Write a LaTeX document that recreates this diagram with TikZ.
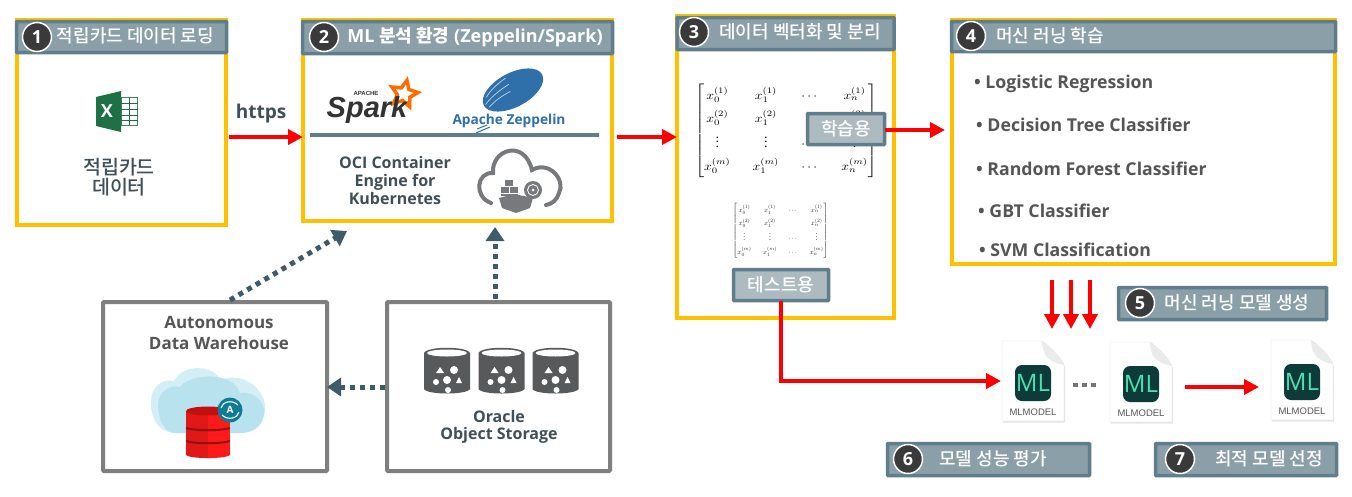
\documentclass[tikz,border=0pt]{standalone}
\usepackage{amsmath}
\usepackage{fontspec}
\usetikzlibrary{arrows.meta,shapes.geometric}
\setmainfont{Open Sans}
\newfontfamily\kr{Noto Sans CJK KR}
\newfontfamily\krm{Noto Sans CJK KR Medium}
\newfontfamily\sparkf{Liberation Sans}
\definecolor{gold}{HTML}{FFC000}
\definecolor{hdfill}{HTML}{8A9FA8}
\definecolor{hdline}{HTML}{5F7D8B}
\definecolor{subfill}{HTML}{ADBBC1}
\definecolor{ink}{HTML}{3F4F58}
\definecolor{gtext}{HTML}{555555}
\definecolor{dots}{HTML}{3F5A68}
\definecolor{frame}{HTML}{7F7F7F}
\definecolor{badge}{HTML}{3A3A3A}
\definecolor{bucket}{HTML}{58595B}
\definecolor{xlgreen}{HTML}{1E7145}
\definecolor{zepblue}{HTML}{2F6FAA}
\definecolor{ocigray}{HTML}{77797C}
\definecolor{mlbg}{HTML}{0C3B3A}
\definecolor{mlfg}{HTML}{4FE0B0}
\definecolor{cloudA}{HTML}{D3EFF5}
\definecolor{cloudB}{HTML}{B8E3EE}
\definecolor{dbL}{HTML}{E01818}
\definecolor{dbR}{HTML}{FF1A1A}
\definecolor{dbT}{HTML}{C01010}
\definecolor{dbB}{HTML}{8E1414}
\definecolor{autoT}{HTML}{0E7C96}
\newcommand{\fs}[1]{\fontsize{#1}{#1}\selectfont}
\newcommand{\mtx}{$\renewcommand{\arraystretch}{1.6}\setlength{\arraycolsep}{8.2pt}\left[\begin{array}{@{}cccc@{}}
x_0^{(1)} & x_1^{(1)} & \cdots & x_n^{(1)}\\
x_0^{(2)} & x_1^{(2)} & & x_n^{(2)}\\
\vdots & \vdots & \cdots & \vdots\\
x_0^{(m)} & x_1^{(m)} & \cdots & x_n^{(m)}
\end{array}\right]$}
\tikzset{
  x=1pt,y=-1pt,
  ybox/.style={draw=gold,line width=4,fill=white,anchor=north west,outer sep=0,inner sep=0},
  gbox/.style={draw=frame,line width=4,fill=white,anchor=north west,outer sep=0,inner sep=0,rounded corners=1},
  head/.style={draw=hdline,line width=3.5,fill=hdfill,anchor=north west,outer sep=0,inner sep=0,rounded corners=.5},
  subhead/.style={draw=hdline,line width=3.5,fill=subfill,anchor=north west,outer sep=0,inner sep=0,rounded corners=.5,text=white,font=\krm\fs{18}},
  num/.style={circle,fill=badge,draw=white,line width=1.5,minimum size=29,inner sep=0,text=white,font=\bfseries\fs{18}},
  htext/.style={text=white,inner sep=0,font=\krm\fs{18}},
  btext/.style={text=ink,inner sep=0,align=center,font=\bfseries\fs{16}},
  ltext/.style={text=gtext,inner sep=0,anchor=base west,font=\bfseries\fs{17.7}},
  flow/.style={draw=red,line width=4,-{Triangle[length=15,width=15]}},
  dotflow/.style={draw=dots,line width=5,dash pattern=on 5 off 5,-{Triangle[length=14,width=18]}},
  bucketpic/.pic={
    \fill[bucket] (-23,-18) -- (-23,18) .. controls (-20,24) and (20,24) .. (23,18) -- (23,-18) .. controls (20,-25) and (-20,-25) .. (-23,-18) -- cycle;
    \fill[white] (0,-18) ellipse [x radius=20,y radius=3.5];
    \fill[white] (-7,-4) -- (-3,2) -- (-11,2) -- cycle;
    \fill[white] (7,-1) circle [radius=4];
    \fill[white] (-11,11) circle [radius=3];
    \fill[white] (0,9) circle [radius=4];
    \fill[white] (12,6) -- (15,12) -- (9,12) -- cycle;
    \fill[white] (1,19) circle [radius=3];
  },
  mldoc/.pic={
    \fill[black!10] (1,2) -- (40,2) -- (63,26) -- (63,81.5) -- (1,81.5) -- cycle;
    \draw[black!15,fill=white] (0,0) -- (40,0) .. controls (48,6) and (57,14) .. (62,24) -- (62,80) -- (0,80) -- cycle;
    \fill[black!8] (40,0) .. controls (41,10) and (41,20) .. (62,24) .. controls (56,14) and (48,6) .. (40,0) -- cycle;
    \fill[mlbg,rounded corners=7] (13,24) rectangle (49,60);
    \node[text=mlfg,inner sep=0,font=\fs{24}] at (31,42) {ML};
    \node[text=gtext,inner sep=0,font=\sparkf\fs{9.5}] at (31,71.5) {MLMODEL};
  }
}
\begin{document}
\begin{tikzpicture}
\useasboundingbox (0,0) rectangle (1352,496);
\fill[white] (0,0) rectangle (1352,496);
% main boxes
\node[ybox,minimum width=209,minimum height=205] (b1) at (17,20) {};
\node[ybox,minimum width=309,minimum height=201] (b2) at (303,20) {};
\node[ybox,minimum width=217,minimum height=302] (b3) at (677,16) {};
\node[ybox,minimum width=383,minimum height=244] (b4) at (952,20) {};
\node[gbox,minimum width=224,minimum height=169] (adw) at (103,302) {};
\node[gbox,minimum width=223,minimum height=169] (obj) at (387,302) {};
% headers
\node[head,minimum width=210,minimum height=31] (h1) at (16.5,21.5) {};
\node[head,minimum width=310,minimum height=32] (h2) at (302.5,21.5) {};
\node[head,minimum width=217,minimum height=32] (h3) at (677,17.5) {};
\node[head,minimum width=384,minimum height=30] (h4) at (951.5,21.5) {};
\node[head,minimum width=208,minimum height=32] (h5) at (1118.5,287.5) {};
\node[head,minimum width=202,minimum height=32] (h6) at (887.5,443.5) {};
\node[head,minimum width=181,minimum height=32] (h7) at (1155.5,443.5) {};
\node[num] (n1) at (37,37) {1};
\node[num] (n2) at (324,37) {2};
\node[num] (n3) at (694,32) {3};
\node[num] (n4) at (971,36) {4};
\node[num] (n5) at (1140,303) {5};
\node[num] (n6) at (908,459) {6};
\node[num] (n7) at (1180,459) {7};
\node[htext] (t1) at (135.5,36) {적립카드 데이터 로딩};
\node[htext,font=\bfseries\fs{18}] (t2) at (475,37) {ML {\krm 분석 환경} (Zeppelin/Spark)};
\node[htext] (t3) at (800,32) {데이터 벡터화 및 분리};
\node[htext] (t4) at (1050,36) {머신 러닝 학습};
\node[htext] (t5) at (1237,303) {머신 러닝 모델 생성};
\node[htext] (t6) at (993,459) {모델 성능 평가};
\node[htext] (t7) at (1269,459) {최적 모델 선정};
% box 1
\fill[xlgreen!85!white] (121,97) rectangle (138,126);
\fill[white] (122,98) rectangle (137,125);
\foreach \yy in {103,109,115,120} \draw[xlgreen,line width=1] (121,\yy) -- (138,\yy);
\draw[xlgreen,line width=1] (129,98) -- (129,125);
\fill[xlgreen] (96,97) -- (121,91) -- (121,132) -- (96,126) -- cycle;
\node[text=white,inner sep=0,font=\bfseries\fs{18}] (xl) at (107,111) {X};
\node[align=center,inner sep=0,font=\krm\fs{19.5},text=ink] (d1) at (119,177) {적립카드\\[0.5pt]데이터};
\node[text=ink,inner sep=0,font=\bfseries\fs{19}] (https) at (261,114) {https};
% box 2 logos
\node[star,star points=5,star point ratio=2.1,draw=orange!85!red,line width=3.5,minimum size=28,inner sep=0,rotate=-12] (sparkstar) at (404,94) {};
\node[text=black!80,inner sep=0,font=\sparkf\bfseries\itshape\fs{29}] (spark) at (367,110) {Spark};
\node[text=black!80,inner sep=0,font=\sparkf\bfseries\fs{6}] (apache) at (366,93) {APACHE};
\fill[zepblue,rotate around={28:(513,90)}] (513,90) ellipse [x radius=33,y radius=17];
\begin{scope}[rotate around={28:(513,90)}]
\draw[white!70!zepblue,line width=.7] (482,90) .. controls (490,86) and (500,84) .. (512,83);
\draw[white!70!zepblue,line width=.7] (484,94) .. controls (492,91) and (500,90) .. (510,90);
\draw[white!70!zepblue,line width=.7] (486,84) .. controls (492,80) and (502,77) .. (512,76);
\end{scope}
\draw[zepblue,line width=1] (476,133) -- (490,127);
\draw[zepblue,line width=1] (477,129) -- (487,125);
\node[text=zepblue,inner sep=0,font=\bfseries\fs{13.7}] (zep) at (509,121) {Apache Zeppelin};
\node[draw=hdline,line width=3.5,minimum width=289,minimum height=0,inner sep=0,outer sep=0] (divider) at (454.5,135) {};
\node[btext] (oci) at (395,180) {OCI Container\\[2pt]Engine for\\[2pt]Kubernetes};
\draw[ocigray,line width=4,line cap=round] (491,203) .. controls (474,197) and (476,172) .. (493,173) .. controls (491,150) and (524,138) .. (532,170) .. controls (549,160) and (566,180) .. (559,193) .. controls (557,200) and (552,204) .. (546,205);
\fill[ocigray] (505,180) rectangle (513,186);
\fill[ocigray] (501,186.5) rectangle (509,193);
\fill[ocigray] (510,186.5) rectangle (518,193);
\fill[ocigray] (501,193.5) rectangle (518,196);
\fill[ocigray] (499,198) -- (514,194) -- (533,198) -- (530,208) -- (516,213) -- (502,208) -- cycle;
\fill[ocigray] (533,190) circle [radius=9];
\draw[white,line width=.8] (533,190) circle [radius=5.5];
\fill[white] (533,190) circle [radius=1.5];
% box 3
\node[inner sep=0,transform shape,xscale=1.35,yscale=1.2,text=black] (m1) at (786,130.5) {\mtx};
\node[inner sep=0,transform shape,scale=.71,text=black!85] (m2) at (780.5,230.5) {\mtx};
\node[subhead,minimum width=77,minimum height=31] (s1) at (807.5,113.5) {학습용};
\node[subhead,minimum width=95,minimum height=31] (s2) at (733.5,269.5) {테스트용};
% box 4
\node[ltext] (f1) at (974,88) {• Logistic Regression};
\node[ltext] (f2) at (976,131) {• Decision Tree Classifier};
\node[ltext] (f3) at (976,175) {• Random Forest Classifier};
\node[ltext] (f4) at (978,217) {• GBT Classifier};
\node[ltext] (f5) at (979,256) {• SVM Classification};
% lower left
\node[text=gtext,inner sep=0,align=center,font=\bfseries\fs{17}] (adwt) at (219,333) {Autonomous\\[4pt]Data Warehouse};
\fill[cloudA] (151,404) .. controls (150,385) and (165,378) .. (174,381) .. controls (184,362) and (215,366) .. (220,380) .. controls (240,372) and (262,385) .. (265,405) .. controls (266,423) and (255,433) .. (240,433) -- (175,433) .. controls (160,433) and (151,420) .. (151,404) -- cycle;
\fill[cloudB] (158,405) .. controls (158,392) and (170,384) .. (180,387) .. controls (190,372) and (235,372) .. (240,393) .. controls (256,390) and (266,405) .. (264,415) .. controls (262,425) and (255,433) .. (240,433) -- (175,433) .. controls (165,433) and (158,420) .. (158,405) -- cycle;
\fill[dbL] (186,411) rectangle (208,455);
\fill[dbR] (208,411) rectangle (230,455);
\fill[dbT] (208,411) ellipse [x radius=22,y radius=4.5];
\fill[dbL] (186,455) .. controls (190,458) and (204,458) .. (208,458) -- (208,455) -- cycle;
\fill[dbR] (230,455) .. controls (226,458) and (212,458) .. (208,458) -- (208,455) -- cycle;
\draw[dbB,line width=2] (186,428) .. controls (195,431) and (221,431) .. (230,428);
\draw[dbB,line width=2] (186,441) .. controls (195,444) and (221,444) .. (230,441);
\node[circle,fill=autoT,minimum size=25,inner sep=0,text=white,font=\bfseries\fs{10}] (auto) at (230,410) {A};
\draw[white,line width=1.1] (221,408) .. controls (222,402) and (232,399) .. (238,405);
\draw[white,line width=1.1] (239,412) .. controls (238,418) and (228,421) .. (222,415);
\pic at (447,371) {bucketpic};
\pic at (501.5,371) {bucketpic};
\pic at (555.5,371) {bucketpic};
\node[btext] (objt) at (499,427) {Oracle\\[1pt]Object Storage};
% ML models
\pic at (1002,341) {mldoc};
\pic at (1110,342) {mldoc};
\pic at (1271,340) {mldoc};
\coordinate (doc1in) at (1001,381);
\coordinate (doc1out) at (1073,385);
\coordinate (doc2in) at (1098,385);
\coordinate (best) at (1259,387);
\coordinate (doc2out) at (1185,387);
% connectors
\coordinate (p12) at (0,137);
\coordinate (p23) at (0,137);
\coordinate (p34) at (0,130);
\coordinate (p4a) at (1052,0);
\coordinate (p4b) at (1071,0);
\coordinate (p4c) at (1090,0);
\coordinate (tipa) at (1052,329);
\coordinate (tipb) at (1071,329);
\coordinate (tipc) at (1090,329);
\coordinate (dz) at (347,231);
\coordinate (dy) at (230,300);
\coordinate (dx) at (495,0);
\coordinate (dl) at (0,387);
\draw[flow,shorten <=3] (b1.east |- p12) -- (b2.west |- p12);
\draw[flow,shorten <=5] (b2.east |- p23) -- (b3.west |- p23);
\draw[flow,shorten >=7] (s1.east |- p34) -- (b4.west |- p34);
\draw[flow,shorten <=16] (p4a |- b4.south) -- (tipa);
\draw[flow,shorten <=16] (p4b |- b4.south) -- (tipb);
\draw[flow,shorten <=16] (p4c |- b4.south) -- (tipc);
\draw[draw=red,line width=4,-{Triangle[length=15,width=15]}] (s2.south -| 781,0) -- (781,381) -- (doc1in);
\draw[flow] (doc2out) -- (best);
\draw[draw=gray!90!black,line width=4,dash pattern=on 5 off 4] (doc1out) -- (doc2in);
\draw[dotflow] (dy) -- (dz);
\draw[dotflow] (obj.north -| dx) ++(0,-3) -- (495,227);
\draw[dotflow,shorten <=2] (obj.west |- dl) -- (adw.east |- dl);
\end{tikzpicture}
\end{document}
